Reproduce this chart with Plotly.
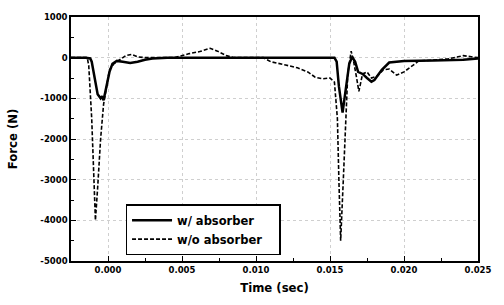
import plotly.graph_objects as go

# w/ absorber (solid)
t_with = [-0.0025, -0.0015, -0.0012, -0.0011, -0.0009, -0.0007, -0.0005, -0.0004, -0.0003,
          -0.0001, 0.0001, 0.0003, 0.0006, 0.0010, 0.0015, 0.0020, 0.0025, 0.0030, 0.0040,
          0.0080, 0.0100, 0.0120, 0.0140, 0.0153, 0.01545, 0.0156, 0.01585, 0.0161, 0.0163,
          0.0165, 0.0167, 0.0169, 0.0172, 0.0175, 0.0178, 0.0180, 0.0185, 0.0190, 0.0200,
          0.0220, 0.0240, 0.0250]
f_with = [0, 0, -20, -100, -500, -900, -1000, -950, -1050,
          -700, -350, -150, -80, -100, -130, -100, -50, -20, 0,
          0, 0, 0, 10, 0, -100, -700, -1350, -700, -150,
          20, -100, -350, -400, -500, -590, -550, -300, -120, -80,
          -70, -50, -20]

# w/o absorber (dashed)
t_without = [-0.0025, -0.0014, -0.0013, -0.0011, -0.00095, -0.00085, -0.0007, -0.0005, -0.0003,
             -0.0001, 0.0001, 0.0004, 0.0008, 0.0012, 0.0016, 0.0020, 0.0025, 0.0045, 0.0055,
             0.0062, 0.0069, 0.0074, 0.0080, 0.0085, 0.0105, 0.0110, 0.0120, 0.0128, 0.0135,
             0.0140, 0.0145, 0.0150, 0.0153, 0.0155, 0.0156, 0.01572, 0.0159, 0.0161, 0.0162,
             0.01643, 0.0166, 0.0168, 0.01695, 0.0172, 0.0175, 0.0178, 0.0182, 0.0186, 0.0190,
             0.0195, 0.0200, 0.0206, 0.0210, 0.0220, 0.0230, 0.0240, 0.0245, 0.0250]
f_without = [0, 0, -200, -1500, -3000, -4000, -3200, -2000, -1150,
             -700, -300, -150, -50, 50, 80, 20, 0, 0, 100,
             150, 230, 160, 50, 0, 0, -100, -180, -250, -350,
             -480, -520, -500, -600, -1500, -3000, -4500, -3000, -1200, -400,
             160, -100, -500, -830, -400, -350, -500, -450, -300, -280,
             -430, -350, -190, -80, -60, -30, 50, 30, 0]

x_ticks = [0.000, 0.005, 0.010, 0.015, 0.020, 0.025]
x_labels = ["0.000", "0.005", "0.010", "0.015", "0.020", "0.025"]
y_ticks = [1000, 0, -1000, -2000, -3000, -4000, -5000]
y_labels = ["1000", "0", "-1000", "-2000", "-3000", "-4000", "-5000"]

FONT = "DejaVu Sans, sans-serif"
PAD = "\u00a0\u00a0\u00a0"

fig = go.Figure()
fig.add_trace(go.Scatter(x=t_with, y=f_with, mode="lines", name="w/ absorber",
                         line=dict(color="black", width=2.5)))
fig.add_trace(go.Scatter(x=t_without, y=f_without, mode="lines", name="w/o absorber" + PAD,
                         line=dict(color="black", width=1.6, dash="4px,2px")))

axis_common = dict(showline=True, linecolor="black", linewidth=1.5, mirror=True,
                   ticks="inside", ticklen=5, tickwidth=1.2, tickcolor="black",
                   showgrid=True, gridcolor="#cfcfcf", griddash="dot", gridwidth=1,
                   zeroline=False, tickfont=dict(family=FONT, size=8.5, color="black", weight="bold"))

fig.update_layout(
    width=504, height=305,
    margin=dict(l=67, r=12, t=13, b=39),
    paper_bgcolor="white", plot_bgcolor="white",
    font=dict(family=FONT, color="black"),
    showlegend=True,
    legend=dict(x=0.134, y=0.233, xanchor="left", yanchor="top",
                bgcolor="white", bordercolor="black", borderwidth=1.5,
                font=dict(family=FONT, size=11.5, color="black", weight="bold"),
                tracegroupgap=0, itemwidth=40),
    xaxis=dict(range=[-0.0025, 0.025], tickvals=x_ticks, ticktext=x_labels,
               minor=dict(ticks="inside", ticklen=3, tickcolor="black", dtick=0.0025, showgrid=False),
               title=dict(text="Time (sec)", font=dict(family=FONT, size=11.7, color="black", weight="bold"),
                          standoff=10),
               **axis_common),
    yaxis=dict(range=[-5000, 1000], tickvals=y_ticks, ticktext=y_labels,
               minor=dict(ticks="inside", ticklen=3, tickcolor="black", dtick=500, showgrid=False),
               title=dict(text="Force (N)", font=dict(family=FONT, size=11.7, color="black", weight="bold"),
                          standoff=20),
               **axis_common),
)

fig.write_html("out.html", config={"displayModeBar": False},
               post_script="document.body.style.margin='0';")
